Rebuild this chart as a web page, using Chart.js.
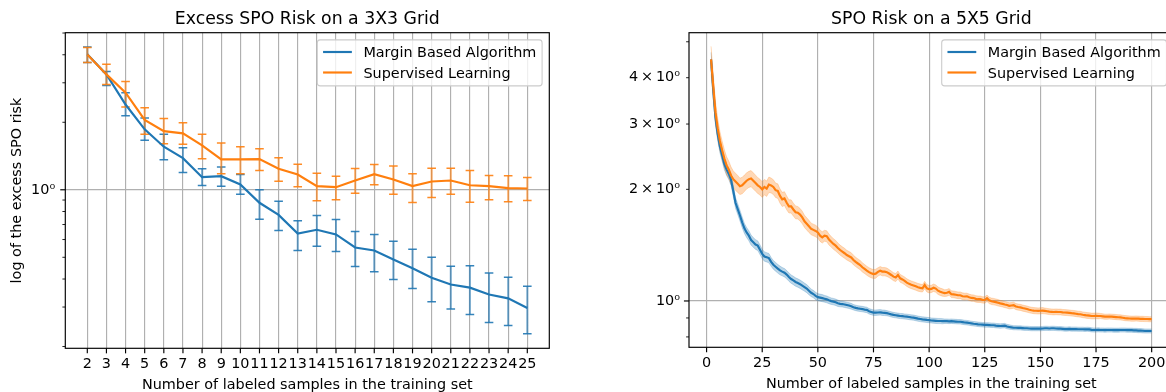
<!DOCTYPE html>
<html>
<head>
<meta charset="utf-8">
<script src="https://cdn.jsdelivr.net/npm/chart.js@4.4.1/dist/chart.umd.min.js"></script>
<style>
html,body{margin:0;padding:0;background:#fff;overflow:hidden;width:1166px;height:392px;}
#wrap{position:relative;width:1166px;height:392px;overflow:hidden;}
canvas{position:absolute;top:0;}
#chartGrid3{left:0;}
#chartGrid5{left:600px;}
</style>
</head>
<body>
<div id="wrap">
<canvas id="chartGrid3" width="580" height="392"></canvas>
<canvas id="chartGrid5" width="600" height="392"></canvas>
</div>
<script>

const seriesNames=["Margin Based Algorithm","Supervised Learning"];

// 3x3 grid: mean excess risk with error bar ends
const samples3=[2,3,4,5,6,7,8,9,10,11,12,13,14,15,16,17,18,19,20,21,22,23,24,25];
const marginMean3=[4.02,3.27,2.40,1.86,1.556,1.384,1.138,1.150,1.056,0.875,0.773,0.638,0.663,0.632,0.553,0.536,0.489,0.447,0.405,0.378,0.366,0.341,0.328,0.297];
const marginLow3=[3.69,2.92,2.14,1.665,1.361,1.195,1.045,1.038,0.956,0.739,0.658,0.536,0.560,0.530,0.455,0.431,0.398,0.363,0.317,0.294,0.278,0.256,0.248,0.228];
const marginHigh3=[4.33,3.37,2.71,2.09,1.77,1.54,1.241,1.262,1.170,1.000,0.889,0.727,0.768,0.737,0.652,0.632,0.590,0.543,0.500,0.456,0.458,0.426,0.407,0.371];
const supervisedMean3=[4.01,3.27,2.71,2.05,1.827,1.784,1.577,1.366,1.366,1.370,1.241,1.170,1.038,1.027,1.100,1.174,1.112,1.038,1.089,1.100,1.048,1.038,1.017,1.013];
const supervisedLow3=[3.69,2.95,2.34,1.77,1.605,1.598,1.375,1.179,1.179,1.220,1.092,1.031,0.893,0.902,0.966,1.053,0.956,0.878,0.924,0.956,0.880,0.902,0.884,0.896];
const supervisedHigh3=[4.31,3.63,3.04,2.32,2.08,1.99,1.77,1.615,1.556,1.524,1.390,1.301,1.186,1.150,1.245,1.297,1.275,1.179,1.249,1.249,1.220,1.158,1.155,1.135];
const yTicks3=[0.2,0.3,0.4,0.5,0.6,0.7,0.8,0.9,1,2,3,4,5];
const yTickLabels3=["","","","","","","","","10\u2070","","","",""];

// 5x5 grid: risk for 2..200 labeled samples, band half-width in percent
const firstSample5=2;
const marginRisk5=[
4.48,3.70,3.12,2.82,2.61,2.47,2.34,2.26,2.20,2.12,
1.98,1.84,1.77,1.70,1.63,1.57,1.53,1.50,1.46,1.44,
1.42,1.41,1.375,1.34,1.318,1.312,1.305,1.275,1.252,1.237,
1.222,1.209,1.200,1.192,1.178,1.160,1.146,1.136,1.125,1.118,
1.110,1.100,1.090,1.080,1.066,1.052,1.044,1.032,1.024,1.021,
1.018,1.014,1.010,1.004,0.999,0.996,0.992,0.986,0.982,0.981,
0.978,0.975,0.972,0.968,0.962,0.958,0.955,0.953,0.951,0.948,
0.946,0.938,0.934,0.930,0.930,0.931,0.932,0.930,0.929,0.927,
0.924,0.920,0.917,0.915,0.913,0.911,0.910,0.908,0.907,0.905,
0.903,0.902,0.899,0.896,0.894,0.892,0.891,0.889,0.888,0.886,
0.885,0.884,0.883,0.883,0.882,0.882,0.882,0.881,0.882,0.881,
0.880,0.879,0.879,0.877,0.875,0.874,0.872,0.870,0.868,0.867,
0.865,0.864,0.863,0.862,0.862,0.861,0.860,0.860,0.858,0.857,
0.856,0.857,0.858,0.853,0.851,0.849,0.847,0.847,0.846,0.846,
0.845,0.844,0.844,0.843,0.842,0.842,0.842,0.842,0.842,0.843,
0.844,0.844,0.843,0.844,0.844,0.843,0.842,0.842,0.841,0.840,
0.840,0.841,0.840,0.840,0.840,0.839,0.839,0.839,0.838,0.839,
0.838,0.836,0.835,0.835,0.836,0.835,0.835,0.834,0.835,0.835,
0.835,0.834,0.834,0.834,0.835,0.835,0.835,0.834,0.834,0.834,
0.833,0.833,0.832,0.832,0.831,0.830,0.830,0.830,0.830];
const supervisedRisk5=[
4.48,3.80,3.22,2.92,2.70,2.55,2.42,2.32,2.26,2.18,
2.13,2.10,2.07,2.04,2.05,2.08,2.11,2.13,2.14,2.11,
2.08,2.05,2.03,2.00,2.03,2.01,2.06,2.05,2.03,1.99,
1.98,1.92,1.88,1.89,1.84,1.80,1.80,1.765,1.735,1.73,
1.71,1.68,1.64,1.615,1.59,1.565,1.555,1.545,1.53,1.50,
1.485,1.50,1.495,1.465,1.445,1.425,1.41,1.39,1.372,1.358,
1.345,1.33,1.32,1.31,1.29,1.275,1.262,1.25,1.233,1.22,
1.207,1.196,1.188,1.182,1.185,1.198,1.207,1.20,1.20,1.196,
1.186,1.175,1.163,1.157,1.175,1.151,1.143,1.133,1.121,1.112,
1.106,1.101,1.095,1.089,1.085,1.082,1.104,1.082,1.076,1.078,
1.086,1.080,1.066,1.059,1.054,1.050,1.052,1.058,1.043,1.042,
1.039,1.036,1.036,1.030,1.028,1.029,1.023,1.019,1.018,1.013,
1.011,1.011,1.007,1.006,1.017,1.004,0.998,0.996,0.993,0.989,
0.985,0.982,0.978,0.975,0.970,0.972,0.974,0.966,0.963,0.961,
0.957,0.954,0.951,0.947,0.944,0.942,0.941,0.940,0.941,0.942,
0.940,0.938,0.936,0.935,0.934,0.935,0.934,0.934,0.932,0.931,
0.930,0.929,0.927,0.926,0.924,0.922,0.921,0.918,0.916,0.914,
0.913,0.911,0.911,0.912,0.911,0.911,0.909,0.907,0.907,0.908,
0.907,0.906,0.905,0.904,0.903,0.901,0.899,0.898,0.897,0.896,
0.896,0.897,0.896,0.895,0.895,0.894,0.894,0.893,0.893];
const marginSpread5=[
4.5,4.2,3.9,3.9,3.8,3.6,3.5,3.5,3.4,3.4,
3.4,3.3,3.3,3.3,3.3,3.1,3.1,3.1,3.1,3.0,
3.0,3.0,3.0,2.9,2.9,2.9,2.9,2.7,2.7,2.7,
2.7,2.7,2.6,2.6,2.6,2.6,2.6,2.6,2.6,2.6,
2.6,2.6,2.5,2.5,2.5,2.3,2.3,2.3,2.2,2.2,
2.2,2.1,2.1,2.1,2.0,2.0,2.0,2.0,1.8,1.8,
1.8,1.8,1.8,1.8,1.7,1.7,1.7,1.7,1.7,1.7,
1.7,1.7,1.7,1.7,1.7,1.7,1.7,1.7,1.7,1.6,
1.6,1.6,1.6,1.6,1.6,1.6,1.6,1.6,1.6,1.6,
1.6,1.6,1.6,1.6,1.6,1.6,1.6,1.6,1.6,1.6,
1.6,1.6,1.6,1.6,1.6,1.4,1.4,1.4,1.4,1.4,
1.4,1.4,1.4,1.4,1.4,1.4,1.4,1.4,1.4,1.4,
1.4,1.4,1.4,1.4,1.4,1.4,1.4,1.4,1.4,1.4,
1.4,1.4,1.4,1.4,1.4,1.3,1.3,1.3,1.3,1.3,
1.3,1.3,1.3,1.3,1.3,1.3,1.3,1.3,1.3,1.3,
1.3,1.3,1.3,1.3,1.3,1.3,1.3,1.3,1.3,1.3,
1.3,1.3,1.3,1.3,1.3,1.3,1.3,1.3,1.3,1.3,
1.3,1.3,1.3,1.3,1.3,1.3,1.3,1.3,1.3,1.3,
1.3,1.3,1.3,1.3,1.3,1.3,1.3,1.3,1.3,1.3,
1.3,1.3,1.3,1.3,1.3,1.3,1.3,1.3,1.3];
const supervisedSpread5=[
8.5,7.5,6.9,6.3,6.0,5.8,5.6,5.5,5.4,5.4,
5.3,5.3,5.3,5.1,5.1,5.1,5.0,5.0,5.0,5.0,
5.0,4.9,4.9,4.9,4.8,4.8,4.8,4.6,4.6,4.5,
4.5,4.4,4.4,4.3,4.3,4.1,4.1,4.0,4.0,3.9,
3.9,3.9,3.8,3.8,3.8,3.6,3.6,3.6,3.5,3.5,
3.5,3.4,3.4,3.4,3.3,3.3,3.3,3.1,3.1,3.1,
3.1,3.0,3.0,3.0,3.0,2.9,2.9,2.9,2.9,2.8,
2.8,2.8,2.8,2.8,2.8,2.6,2.6,2.6,2.6,2.6,
2.5,2.5,2.5,2.5,2.5,2.4,2.4,2.4,2.4,2.4,
2.4,2.4,2.4,2.4,2.4,2.3,2.3,2.3,2.3,2.3,
2.3,2.3,2.3,2.3,2.3,2.1,2.1,2.1,2.1,2.1,
2.1,2.1,2.1,2.1,2.1,2.0,2.0,2.0,2.0,2.0,
2.0,2.0,2.0,2.0,2.0,2.0,2.0,2.0,2.0,2.0,
1.9,1.9,1.9,1.9,1.9,1.9,1.9,1.9,1.9,1.9,
1.9,1.9,1.9,1.9,1.9,1.9,1.9,1.9,1.9,1.9,
1.8,1.8,1.8,1.8,1.8,1.8,1.8,1.8,1.8,1.8,
1.8,1.8,1.8,1.8,1.8,1.8,1.8,1.8,1.8,1.8,
1.8,1.8,1.8,1.8,1.8,1.6,1.6,1.6,1.6,1.6,
1.6,1.6,1.6,1.6,1.6,1.6,1.6,1.6,1.6,1.6,
1.6,1.6,1.6,1.6,1.6,1.6,1.6,1.6,1.6];
const xTicks5=[0,25,50,75,100,125,150,175,200];
const yTicks5=[0.8,0.9,1,2,3,4,5];
const yTickLabels5=["","","10\u2070","2\u2009\u00d7\u200910\u2070","3\u2009\u00d7\u200910\u2070","4\u2009\u00d7\u200910\u2070",""];

const blue="#1f77b4";
const orange="#ff7f0e";
const gridColor="#b0b0b0";
const fontFamily="'DejaVu Sans', sans-serif";
const fs=14.4;

Chart.defaults.font.family=fontFamily;
Chart.defaults.font.size=fs;
Chart.defaults.color="#000";

function fade(hex,a){
let n=parseInt(hex.slice(1),16);
return "rgba("+(n>>16)+","+((n>>8)&255)+","+(n&255)+","+a+")";
}

function points(xs,ys){
return xs.map((x,i)=>({x:x,y:ys[i]}));
}

// each error bar is a two-point segment, a null point breaks the line
function errorPoints(xs,lo,hi){
let out=[];
xs.forEach((x,i)=>{
out.push({x:x,y:lo[i]});
out.push({x:x,y:hi[i]});
out.push({x:x,y:null});
});
return out;
}

function isDecade(v){
let l=Math.log10(v);
return Math.abs(l-Math.round(l))<1e-9;
}

// spines, tick marks, legend box and text around the plot area
function framePlugin(cfg){
return {
id:"frame",
afterDraw(chart){
const ctx=chart.ctx,a=chart.chartArea;
const sx=chart.scales.x,sy=chart.scales.y;
ctx.save();
ctx.strokeStyle="#000";
sx.ticks.forEach(t=>{
let px=sx.getPixelForValue(t.value);
ctx.lineWidth=1.16;
ctx.beginPath();ctx.moveTo(px,a.bottom);ctx.lineTo(px,a.bottom+5.06);ctx.stroke();
});
sy.ticks.forEach(t=>{
let py=sy.getPixelForValue(t.value);
let major=isDecade(t.value);
ctx.lineWidth=major?1.16:0.87;
let len=major?5.06:2.9;
ctx.beginPath();ctx.moveTo(a.left-len,py);ctx.lineTo(a.left,py);ctx.stroke();
});
ctx.lineWidth=1.16;
ctx.strokeRect(a.left,a.top,a.right-a.left,a.bottom-a.top);

ctx.font=fs+"px "+fontFamily;
let textW=Math.max(...cfg.legend.map(e=>ctx.measureText(e.label).width));
let w=fs*3.6+textW,h=46;
let bx=a.right-fs*0.5-w,by=a.top+fs*0.5;
ctx.beginPath();ctx.roundRect(bx,by,w,h,2.9);
ctx.fillStyle="rgba(255,255,255,0.8)";ctx.fill();
ctx.strokeStyle="#cccccc";ctx.lineWidth=1.1;ctx.stroke();
cfg.legend.forEach((e,i)=>{
let cy=by+12.1+i*20.5;
ctx.strokeStyle=e.color;ctx.lineWidth=2.17;
ctx.beginPath();ctx.moveTo(bx+fs*0.4,cy);ctx.lineTo(bx+fs*2.4,cy);ctx.stroke();
ctx.fillStyle="#000";ctx.textAlign="left";ctx.textBaseline="alphabetic";
ctx.fillText(e.label,bx+fs*3.2,cy+5.3);
});

let cx=(a.left+a.right)/2;
ctx.fillStyle="#000";ctx.textAlign="center";ctx.textBaseline="alphabetic";
ctx.font="17.3px "+fontFamily;
ctx.fillText(cfg.title,cx,a.top-8.5);
ctx.font=fs+"px "+fontFamily;
ctx.fillText(cfg.xLabel,cx,a.bottom+40.2);
if(cfg.yLabel){
ctx.translate(21,(a.top+a.bottom)/2);
ctx.rotate(-Math.PI/2);
ctx.fillText(cfg.yLabel,0,0);
}
ctx.restore();
}
};
}

function xAxis(min,max,ticks,height){
return {
type:"linear",min:min,max:max,
afterBuildTicks:s=>{s.ticks=ticks.map(v=>({value:v}));},
afterFit:s=>{s.height=height;},
ticks:{autoSkip:false,maxRotation:0,padding:7.4,callback:v=>String(v),font:{size:fs}},
grid:{color:gridColor,lineWidth:1.16,drawTicks:false},
border:{display:false}
};
}

function yAxis(min,max,ticks,labels,width,pad){
return {
type:"logarithmic",min:min,max:max,
afterBuildTicks:s=>{s.ticks=ticks.map(v=>({value:v}));},
afterFit:s=>{s.width=width;},
ticks:{autoSkip:false,padding:pad,callback:(v,i)=>labels[i],font:{size:fs}},
grid:{color:c=>(c.tick&&c.tick.value===1)?gridColor:"rgba(0,0,0,0)",lineWidth:1.16,drawTicks:false},
border:{display:false}
};
}

const baseOptions={
responsive:false,
animation:false,
events:[],
devicePixelRatio:1,
elements:{point:{radius:0},line:{tension:0}},
plugins:{legend:{display:false},tooltip:{enabled:false},title:{display:false}}
};

// left panel: 3x3 grid with error bars
new Chart(document.getElementById("chartGrid3"),{
type:"line",
data:{datasets:[
{label:seriesNames[1],data:points(samples3,supervisedMean3),borderColor:orange,borderWidth:2.17,order:0},
{label:seriesNames[0],data:points(samples3,marginMean3),borderColor:blue,borderWidth:2.17,order:1},
{label:"",data:errorPoints(samples3,supervisedLow3,supervisedHigh3),borderColor:fade(orange,0.6),borderWidth:2,
pointStyle:"line",pointRadius:4.3,pointBorderWidth:1.5,pointBorderColor:fade(orange,0.9),order:2},
{label:"",data:errorPoints(samples3,marginLow3,marginHigh3),borderColor:fade(blue,0.6),borderWidth:2,
pointStyle:"line",pointRadius:4.3,pointBorderWidth:1.5,pointBorderColor:fade(blue,0.9),order:3}
]},
options:Object.assign({},baseOptions,{
layout:{padding:{left:0,top:32.7,right:30.7,bottom:0}},
scales:{
x:xAxis(0.85,26.15,samples3,43.7),
y:yAxis(0.1964,5.017,yTicks3,yTickLabels3,65.3,10.1)
}
}),
plugins:[framePlugin({
title:"Excess SPO Risk on a 3X3 Grid",
xLabel:"Number of labeled samples in the training set",
yLabel:"log of the excess SPO risk",
legend:[{label:seriesNames[0],color:blue},{label:seriesNames[1],color:orange}]
})]
});

// right panel: 5x5 grid with shaded bands
let samples5=[];
for(let i=0;i<marginRisk5.length;i++) samples5.push(firstSample5+i);
let marginUpper=marginRisk5.map((v,i)=>v*(1+marginSpread5[i]/100));
let marginLower=marginRisk5.map((v,i)=>v*(1-marginSpread5[i]/100));
let supervisedUpper=supervisedRisk5.map((v,i)=>v*(1+supervisedSpread5[i]/100));
let supervisedLower=supervisedRisk5.map((v,i)=>v*(1-supervisedSpread5[i]/100));

new Chart(document.getElementById("chartGrid5"),{
type:"line",
data:{datasets:[
{label:seriesNames[1],data:points(samples5,supervisedRisk5),borderColor:orange,borderWidth:2.17,order:0},
{label:seriesNames[0],data:points(samples5,marginRisk5),borderColor:blue,borderWidth:2.17,order:1},
{label:"",data:points(samples5,supervisedUpper),borderColor:fade(orange,0.3),borderWidth:0.8,
fill:"+1",backgroundColor:fade(orange,0.3),order:2},
{label:"",data:points(samples5,supervisedLower),borderColor:fade(orange,0.3),borderWidth:0.8,fill:false,order:2},
{label:"",data:points(samples5,marginUpper),borderColor:fade(blue,0.3),borderWidth:0.8,
fill:"+1",backgroundColor:fade(blue,0.3),order:3},
{label:"",data:points(samples5,marginLower),borderColor:fade(blue,0.3),borderWidth:0.8,fill:false,order:3}
]},
options:Object.assign({},baseOptions,{
layout:{padding:{left:0,top:32.7,right:26.3,bottom:0}},
scales:{
x:xAxis(-7.9,209.9,xTicks5,44.7),
y:yAxis(0.750,5.29,yTicks5,yTickLabels5,89,9)
}
}),
plugins:[framePlugin({
title:"SPO Risk on a 5X5 Grid",
xLabel:"Number of labeled samples in the training set",
legend:[{label:seriesNames[0],color:blue},{label:seriesNames[1],color:orange}]
})]
});

</script>
</body>
</html>
